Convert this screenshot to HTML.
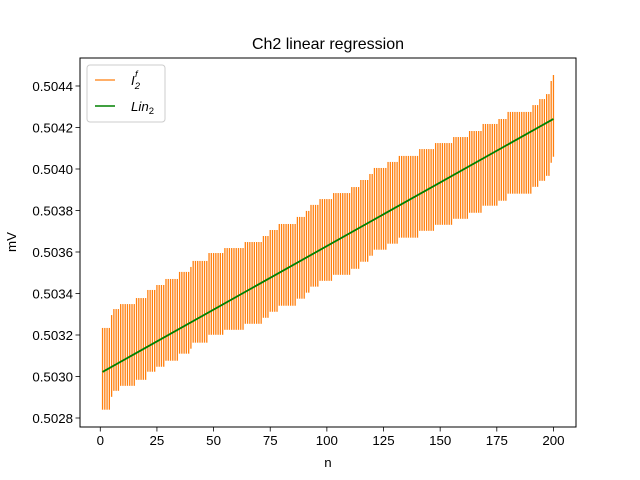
<!DOCTYPE html>
<html><head><meta charset="utf-8"><style>
body{margin:0;background:#fff;}
svg{display:block;font-family:"Liberation Sans","DejaVu Sans",sans-serif;}
</style></head><body>
<svg id="chart" width="640" height="480" viewBox="0 0 640 480" xmlns="http://www.w3.org/2000/svg">
<rect x="0" y="0" width="640" height="480" fill="#fff"/>
<text x="328" y="49" font-size="16" text-anchor="middle" fill="#000">Ch2 linear regression</text>
<g id="plot"></g>
<rect x="80" y="58" width="496" height="369" fill="none" stroke="#000" stroke-width="1"/>
<g id="xticks"></g><g id="yticks"></g>
<text x="328" y="467" font-size="13.3" text-anchor="middle">n</text>
<text x="16" y="242" font-size="13.3" text-anchor="middle" transform="rotate(-90 16 242)">mV</text>
<g>
<rect x="87" y="65" width="78" height="57" rx="3" fill="#fff" fill-opacity="0.8" stroke="#ccc" stroke-width="1"/>
<g>
<line x1="95" y1="80" x2="115" y2="80" stroke="#ff7f0e" stroke-width="1.2"/>
<text x="131" y="85" font-size="13.3" font-style="italic">I<tspan font-size="9.5" dy="4">2</tspan><tspan font-size="9.5" dx="-5" dy="-12">f</tspan></text>
</g>
<g>
<line x1="95" y1="106" x2="115" y2="106" stroke="#008000" stroke-width="1.5"/>
<text x="131" y="111" font-size="13.3"><tspan font-style="italic">Lin</tspan><tspan font-size="9.5" dy="3">2</tspan></text>
</g>
</g>
</svg>
<script>
const ns="http://www.w3.org/2000/svg";
const centers=[
0.503037,0.503037,0.503037,0.503037,
0.503099,
0.503128,0.503128,0.503128,
0.503152,0.503152,0.503152,0.503152,0.503152,0.503152,0.503152,
0.503181,0.503181,0.503181,0.503181,0.503181,
0.503220,0.503220,0.503220,0.503220,
0.503244,0.503244,0.503244,0.503244,
0.503273,0.503273,0.503273,0.503273,0.503273,0.503273,
0.503307,0.503307,0.503307,0.503307,0.503307,
0.503331,
0.503360,0.503360,0.503360,0.503360,0.503360,0.503360,0.503360,
0.503398,0.503398,0.503398,0.503398,0.503398,0.503398,0.503398,
0.503422,0.503422,0.503422,0.503422,0.503422,0.503422,0.503422,0.503422,0.503422,
0.503451,0.503451,0.503451,0.503451,0.503451,0.503451,0.503451,0.503451,
0.503480,0.503480,0.503480,
0.503509,0.503509,0.503509,0.503509,
0.503538,0.503538,0.503538,0.503538,0.503538,0.503538,0.503538,0.503538,
0.503572,0.503572,0.503572,0.503572,
0.503601,0.503601,
0.503630,0.503630,0.503630,0.503630,
0.503658,0.503658,0.503658,0.503658,0.503658,0.503658,
0.503687,0.503687,0.503687,0.503687,0.503687,0.503687,0.503687,0.503687,
0.503716,0.503716,0.503716,0.503716,
0.503750,0.503750,0.503750,0.503750,
0.503779,0.503779,
0.503808,0.503808,0.503808,0.503808,0.503808,0.503808,
0.503837,0.503837,0.503837,0.503837,0.503837,
0.503866,0.503866,0.503866,0.503866,0.503866,0.503866,0.503866,0.503866,0.503866,
0.503899,0.503899,0.503899,0.503899,0.503899,0.503899,0.503899,
0.503928,0.503928,0.503928,0.503928,0.503928,0.503928,0.503928,0.503928,
0.503957,0.503957,0.503957,0.503957,0.503957,0.503957,0.503957,
0.503986,0.503986,0.503986,0.503986,0.503986,0.503986,
0.504020,0.504020,0.504020,0.504020,0.504020,0.504020,0.504020,
0.504044,0.504044,0.504044,0.504044,
0.504078,0.504078,0.504078,0.504078,0.504078,0.504078,0.504078,0.504078,0.504078,0.504078,0.504078,
0.504111,0.504111,0.504111,
0.504140,0.504140,0.504140,
0.504164,0.504164,
0.504227,
0.504256];
const errHalf=[0.000197];
const regSlope=[6.126e-6];
const regIntercept=[0.503016];
const xTickLabels=["0","25","50","75","100","125","150","175","200"];
const xTickValues=[0,25,50,75,100,125,150,175,200];
const yTickLabels=["0.5028","0.5030","0.5032","0.5034","0.5036","0.5038","0.5040","0.5042","0.5044"];
const yTickValues=[0.5028,0.5030,0.5032,0.5034,0.5036,0.5038,0.5040,0.5042,0.5044];

const L=80,R=576,T=58,B=427;
const n=centers.length;
const xmin=1-(n-1)*0.05,xmax=n+(n-1)*0.05;
const ymin=0.5027566,ymax=0.5045349;
const xs=v=>L+(v-xmin)/(xmax-xmin)*(R-L);
const ys=v=>B-(v-ymin)/(ymax-ymin)*(B-T);
function mk(tag,attrs,parent){const e=document.createElementNS(ns,tag);for(const k in attrs)e.setAttribute(k,attrs[k]);parent.appendChild(e);return e;}
const plot=document.getElementById('plot');
const eg=mk('g',{},plot);


centers.forEach((c,i)=>{
  const x=xs(i+1);
  const l=mk('line',{x1:x,x2:x,y1:ys(c-errHalf[0]),y2:ys(c+errHalf[0]),stroke:'#ff7f0e','stroke-width':1.3},eg);
  
  
});
const rl=mk('line',{x1:xs(1),x2:xs(n),y1:ys(regIntercept[0]+regSlope[0]*1),y2:ys(regIntercept[0]+regSlope[0]*n),stroke:'#008000','stroke-width':1.8},plot);


const xt=document.getElementById('xticks');
xTickValues.forEach((v,i)=>{
  const x=xs(v);
  const g=mk('g',{},xt);
  
  
  mk('line',{x1:x,x2:x,y1:B,y2:B+4.5,stroke:'#000','stroke-width':0.8},g);
  const t=mk('text',{x:x,y:B+18,'font-size':13.3,'text-anchor':'middle'},g);t.textContent=xTickLabels[i];
});
const yt=document.getElementById('yticks');
yTickValues.forEach((v,i)=>{
  const y=ys(v);
  const g=mk('g',{},yt);
  
  
  mk('line',{x1:L-4.5,x2:L,y1:y,y2:y,stroke:'#000','stroke-width':0.8},g);
  const t=mk('text',{x:L-7,y:y+4.8,'font-size':13.3,'text-anchor':'end'},g);t.textContent=yTickLabels[i];
});
</script>
</body></html>
